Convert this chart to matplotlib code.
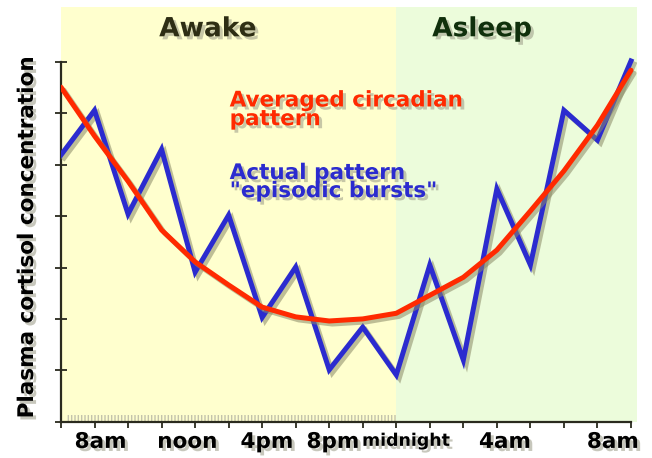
import matplotlib
matplotlib.use('Agg')
import matplotlib.pyplot as plt
import matplotlib.patheffects as pe
from matplotlib.patches import Rectangle

# time slots along the x axis (tick index, 8am -> 8am next day)
slots = [0, 1, 2, 3, 4, 5, 6, 7, 8, 9, 10, 11, 12, 13, 14, 15, 16, 17]
actual = [5.19, 6.06, 4.04, 5.30, 2.91, 4.02, 2.03, 3.01, 1.01, 1.84,
          0.91, 3.05, 1.20, 4.53, 3.05, 6.06, 5.48, 7.02]
averaged = [6.51, 5.56, 4.68, 3.73, 3.11, 2.66, 2.23, 2.04, 1.96, 2.00,
            2.11, 2.46, 2.81, 3.34, 4.10, 4.88, 5.77, 6.84]
time_labels = ['8am', 'noon', '4pm', '8pm', 'midnight', '4am', '8am']
time_label_pos = [1.18, 3.76, 6.14, 8.11, 10.29, 13.24, 16.46]
y_ticks = [0, 1, 2, 3, 4, 5, 6, 7]
sleep_start = 10

BLUE = '#2b2bcf'
RED = '#ff2a00'
DARK = '#2a2a1e'

fig = plt.figure(figsize=(6.52, 4.58), dpi=100)
ax = fig.add_axes([61 / 652, 36.3 / 458, 576 / 652, 414.7 / 458])
ax.set_xlim(0, 17.18)
ax.set_ylim(0, 8.07)
ax.set_facecolor('white')

ax.axvspan(0, sleep_start, color='#ffffce', lw=0, zorder=0)
ax.axvspan(sleep_start, 17.18, color='#ecfcdb', lw=0, zorder=0)
ax.add_patch(Rectangle((0.15, 0), sleep_start - 0.15, 0.13, fill=False,
                       hatch='|||||', edgecolor='#c4c4ac', lw=0, zorder=1))

line_shadow = [pe.SimpleLineShadow(offset=(2.2, -2.2), shadow_color='#8a8a66', alpha=0.55),
               pe.Normal()]
ax.plot(slots, actual, color=BLUE, lw=3.6, solid_joinstyle='miter',
        path_effects=line_shadow, zorder=3)
ax.plot(slots, averaged, color=RED, lw=3.6, solid_capstyle='round',
        path_effects=line_shadow, zorder=4)

for s in ['top', 'right']:
    ax.spines[s].set_visible(False)
for s in ['left', 'bottom']:
    ax.spines[s].set_color(DARK)
    ax.spines[s].set_linewidth(1.6)
ax.spines['left'].set_bounds(0, 7)
ax.spines['bottom'].set_bounds(0, 17)

ax.set_xticks(slots)
ax.set_yticks(y_ticks)
ax.tick_params(axis='both', labelleft=False, labelbottom=False,
               color=DARK, width=1.3)
ax.tick_params(axis='y', direction='inout', length=8)
ax.tick_params(axis='x', direction='out', length=4)

txt_shadow = [pe.withSimplePatchShadow(offset=(2.2, -2.2), shadow_rgbFace='#9a9a86', alpha=0.55)]

for lab, xp in zip(time_labels, time_label_pos):
    small = lab == 'midnight'
    ax.text(xp, -0.47 if small else -0.51, lab, ha='center', va='baseline',
            fontsize=12.5 if small else 15.5, fontweight='bold', color='black',
            clip_on=False, path_effects=txt_shadow)

ax.text(4.38, 7.50, 'Awake', ha='center', va='baseline', fontsize=19,
        fontweight='bold', color='#2e2e14', path_effects=txt_shadow)
ax.text(12.56, 7.50, 'Asleep', ha='center', va='baseline', fontsize=19,
        fontweight='bold', color='#10300c', path_effects=txt_shadow)

ax.text(5.03, 5.77, 'Averaged circadian\npattern', ha='left', va='baseline',
        fontsize=15.5, linespacing=0.92, fontweight='bold', color=RED,
        path_effects=txt_shadow, zorder=5)
ax.text(5.03, 4.37, 'Actual pattern\n"episodic bursts"', ha='left', va='baseline',
        fontsize=15.5, linespacing=0.88, fontweight='bold', color=BLUE,
        path_effects=txt_shadow, zorder=5)

fig.text(27 / 652, 1 - 238 / 458, 'Plasma cortisol concentration', rotation=90,
         ha='center', va='center', fontsize=15.5, fontweight='bold', color='black',
         path_effects=txt_shadow)

fig.savefig('out.png', dpi=100, facecolor='white')
